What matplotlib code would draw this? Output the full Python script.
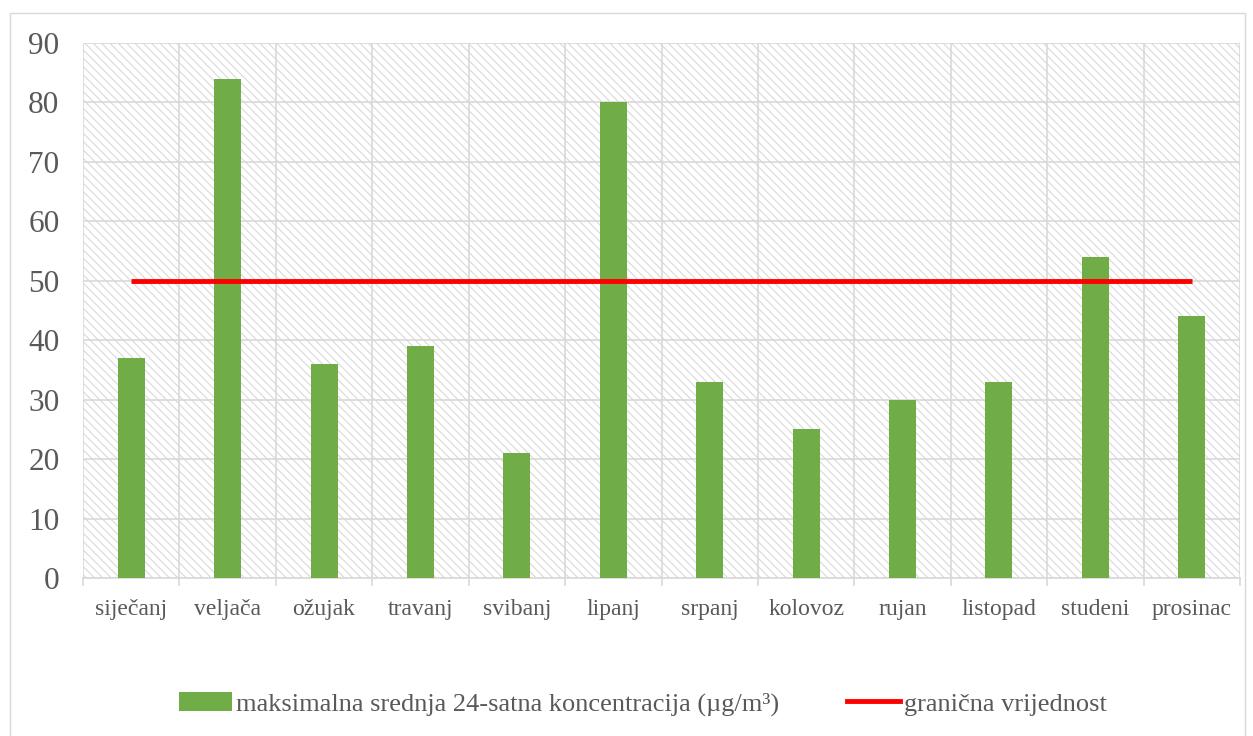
import matplotlib
matplotlib.use("Agg")
import matplotlib.pyplot as plt
from matplotlib.patches import Rectangle, Patch
from matplotlib.lines import Line2D

months = ["siječanj", "veljača", "ožujak", "travanj", "svibanj", "lipanj",
          "srpanj", "kolovoz", "rujan", "listopad", "studeni", "prosinac"]
max_conc = [37, 84, 36, 39, 21, 80, 33, 25, 30, 33, 54, 44]
limit = [50] * 12
yticks = [0, 10, 20, 30, 40, 50, 60, 70, 80, 90]

plt.rcParams['font.family'] = ['Liberation Serif', 'DejaVu Serif']
plt.rcParams['hatch.color'] = '#d9d9d9'
plt.rcParams['hatch.linewidth'] = 0.8
txt = '#595959'
grid = '#d9d9d9'

fig = plt.figure(figsize=(12.53, 7.36), dpi=100)
fig.patches.append(Rectangle((10/1253, -5/736), 1235/1253, 728/736, transform=fig.transFigure,
                             fill=False, edgecolor='#d9d9d9', linewidth=1.0))
ax = fig.add_axes([83/1253, 1-578/736, 1157/1253, 535/736])
ax.add_patch(Rectangle((0, 0), 1, 1, transform=ax.transAxes, facecolor='white',
                       edgecolor='#d9d9d9', hatch='\\\\\\\\', linewidth=0, zorder=0))

x = list(range(len(months)))
ax.bar(x, max_conc, width=0.28, color='#70ad47', zorder=3)
ax.plot(x, limit, color='#ff0000', linewidth=3.5, zorder=4, solid_capstyle='butt')

ax.set_xlim(-0.5, len(months) - 0.5)
ax.set_ylim(0, 90)
ax.set_yticks(yticks)
ax.set_yticklabels([str(v) for v in yticks], fontsize=22.5, color=txt)
ax.set_xticks(x)
ax.set_xticklabels(months, fontsize=17, color=txt)
ax.set_xticks([i - 0.5 for i in range(len(months) + 1)], minor=True)
ax.tick_params(axis='x', which='major', length=0, pad=15)
ax.tick_params(axis='x', which='minor', length=6, color=grid, width=1.2)
ax.tick_params(axis='y', length=0, pad=17)
ax.grid(True, axis='y', color=grid, linewidth=1.2, zorder=1)
ax.grid(True, axis='x', which='minor', color=grid, linewidth=1.2, zorder=1)
for s in ['top', 'right', 'left']:
    ax.spines[s].set_visible(False)
ax.spines['bottom'].set_color(grid)
ax.spines['bottom'].set_linewidth(1.2)
ax.set_axisbelow(True)

handles = [Patch(facecolor='#70ad47', edgecolor='none'),
           Line2D([0], [0], color='#ff0000', linewidth=3.5)]
labels = ["maksimalna srednja 24-satna koncentracija (µg/m³)", "granična vrijednost"]
leg = fig.legend(handles, labels, loc='center', bbox_to_anchor=(643/1253, 1-704/736),
                 ncol=2, frameon=False, fontsize=19, handlelength=2.0, handleheight=0.75,
                 handletextpad=0.15, columnspacing=2.6)
for t in leg.get_texts():
    t.set_color(txt)

fig.savefig("out.png", dpi=100)
